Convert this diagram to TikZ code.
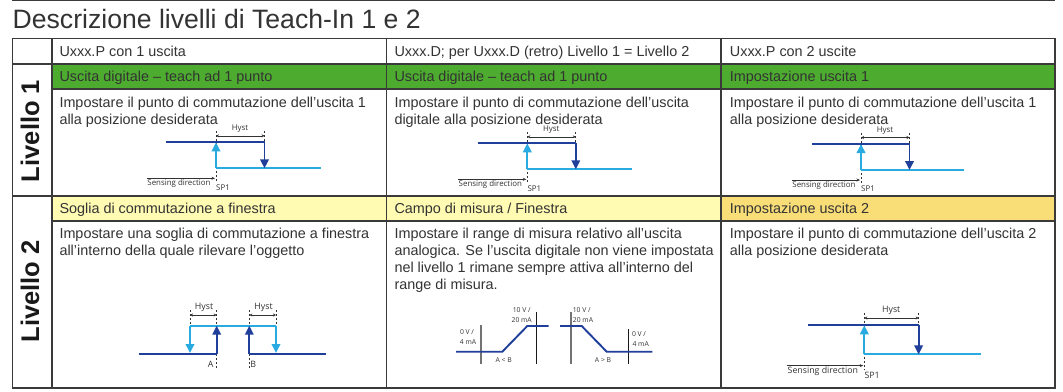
\documentclass[tikz,border=0pt]{standalone}
\usepackage{fontspec}
\setmainfont{Liberation Sans}
\newfontfamily\smallsans{Open Sans}
\usetikzlibrary{arrows.meta}
\definecolor{inkc}{HTML}{333333}
\definecolor{rulec}{HTML}{3A3A3A}
\definecolor{bandgreen}{HTML}{4DAB2F}
\definecolor{bandyellow}{HTML}{FFFBB3}
\definecolor{bandgold}{HTML}{F9DE78}
\definecolor{darkblue}{HTML}{1F3F9A}
\definecolor{lightblue}{HTML}{29ABE2}
\tikzset{
  x=1pt,y=-1pt,
  gridline/.style={draw=rulec,line width=1.4pt},
  celltext/.style={anchor=base west,inner sep=0pt,text=inkc,font=\fontsize{14.4}{17}\selectfont},
  bodytext/.style={anchor=north west,inner sep=0pt,text=inkc,align=left,font=\fontsize{14.4}{17}\selectfont},
  lvltext/.style={rotate=90,anchor=base,inner sep=0pt,text=black!90,font=\fontsize{25.5}{28}\selectfont\bfseries},
  darkline/.style={draw=darkblue,line width=1.9pt},
  lightline/.style={draw=lightblue,line width=1.9pt},
  darkarrow/.style={darkline,-{Triangle[width=8.5pt,length=9pt]}},
  lightarrow/.style={lightline,-{Triangle[width=8.5pt,length=9pt]}},
  dimline/.style={draw=inkc,line width=0.6pt,{Stealth[length=3pt,width=3pt]}-{Stealth[length=3pt,width=3pt]}},
  dirline/.style={draw=inkc,line width=0.6pt,-{Stealth[length=3.5pt,width=3pt]}},
  dotline/.style={draw=inkc,line width=0.7pt,dash pattern=on 2pt off 2pt},
  smalllabel/.style={inner sep=0pt,text=inkc,font=\smallsans\fontsize{#1}{#1}\selectfont},
  smalllabel/.default=7.9,
  grayaxis/.style={draw=black!55,line width=1.1pt},
  blackaxis/.style={draw=black!90,line width=1pt},
}
% hysteresis sketch: prefix, x of SP1, y of upper line, scale, label size, left end, right end
\newcommand{\hystsketch}[7]{%
\begin{scope}[shift={(#2,#3)},x=#4pt,y=-#4pt]
  \coordinate (#1l) at (#6,0);
  \coordinate (#1t) at (0,0);
  \coordinate (#1h) at (48.5,0);
  \coordinate (#1hb) at (48.5,26);
  \coordinate (#1b) at (0,26);
  \coordinate (#1r) at (#7,26);
  \coordinate (#1dt) at (0,-11);
  \coordinate (#1db) at (0,40);
  \coordinate (#1et) at (48.5,-11);
  \coordinate (#1d1) at (0,-6.5);
  \coordinate (#1d2) at (48.5,-6.5);
  \coordinate (#1s1) at (-69,36);
  \coordinate (#1s2) at (-1,36);
  \draw[dotline] (#1dt) -- (#1db);
  \draw[dotline] (#1et) -- (#1h);
  \draw[dimline] (#1d1) -- (#1d2);
  \draw[dirline] (#1s1) -- (#1s2);
  \draw[lightline] (#1r) -- (#1b);
  \draw[lightarrow] (#1b) -- (#1t);
  \draw[darkline] (#1l) -- (#1h);
  \draw[darkarrow] (#1h) -- (#1hb);
  \node[smalllabel=#5] (#1hy) at (24,-13.5) {Hyst};
  \node[smalllabel=#5] (#1se) at (-37,41) {Sensing direction};
  \node[smalllabel=#5,anchor=west] (#1sp) at (0,45) {SP1};
\end{scope}}
\begin{document}
\begin{tikzpicture}
\useasboundingbox (0,0) rectangle (1063,391);
\fill[white] (0,0) rectangle (1063,391);
% bands
\fill[bandgreen] (52,64) rectangle (1055,89);
\fill[bandyellow] (52,196) rectangle (721,221);
\fill[bandgold] (721,196) rectangle (1055,221);
% rules
\draw[draw=rulec,line width=1.5pt] (12,0.7) -- (1055,0.7);
\draw[gridline] (12.7,38.5) rectangle (1055,388);
\draw[gridline] (52,38.5) -- (52,388);
\draw[gridline] (386.7,38.5) -- (386.7,388);
\draw[gridline] (720.8,38.5) -- (720.8,388);
\draw[gridline] (12.7,64) -- (1055,64);
\draw[gridline] (52,89) -- (1055,89);
\draw[gridline] (12.7,196) -- (1055,196);
\draw[gridline] (52,221) -- (1055,221);
% title
\node[anchor=base west,inner sep=0pt,text=inkc,font=\fontsize{26.6}{28}\selectfont] (title) at (12.5,28) {Descrizione livelli di Teach-In 1 e 2};
% level labels
\node[lvltext] (lvlone) at (39,131) {Livello 1};
\node[lvltext] (lvltwo) at (39,291.5) {Livello 2};
% headers
\node[celltext] (h1) at (59.3,56) {Uxxx.P con 1 uscita};
\node[celltext] (h2) at (394.3,56) {Uxxx.D; per Uxxx.D (retro) Livello 1 = Livello 2};
\node[celltext] (h3) at (729.7,56) {Uxxx.P con 2 uscite};
\node[celltext] (a1) at (59.3,81.7) {Uscita digitale – teach ad 1 punto};
\node[celltext] (a2) at (394.3,81.7) {Uscita digitale – teach ad 1 punto};
\node[celltext] (a3) at (729.7,81.7) {Impostazione uscita 1};
\node[celltext] (b1) at (59.3,213.3) {Soglia di commutazione a finestra};
\node[celltext] (b2) at (394.3,213.3) {Campo di misura / Finestra};
\node[celltext] (b3) at (729.7,213.3) {Impostazione uscita 2};
% bodies
\node[bodytext] (c1) at (59.3,96.5) {Impostare il punto di commutazione dell’uscita 1\\alla posizione desiderata};
\node[bodytext] (c2) at (394.3,96.5) {Impostare il punto di commutazione dell’uscita\\digitale alla posizione desiderata};
\node[bodytext] (c3) at (729.7,96.5) {Impostare il punto di commutazione dell’uscita 1\\alla posizione desiderata};
\node[bodytext] (d1) at (59.3,227.8) {Impostare una soglia di commutazione a finestra\\all’interno della quale rilevare l’oggetto};
\node[bodytext] (d2) at (394.3,227.8) {Impostare il range di misura relativo all’uscita\\analogica. Se l’uscita digitale non viene impostata\\nel livello 1 rimane sempre attiva all’interno del\\range di misura.};
\node[bodytext] (d3) at (729.7,227.8) {Impostare il punto di commutazione dell’uscita 2\\alla posizione desiderata};
% hysteresis sketches
\hystsketch{pa}{216}{142.3}{1}{7.9}{-50.3}{105}
\hystsketch{pb}{527.3}{143.3}{1}{7.9}{-49.6}{104.7}
\hystsketch{pc}{861}{144}{1}{7.9}{-48.7}{103}
\hystsketch{pd}{864.3}{325.3}{1.12}{8.8}{-50}{104}
% window sketch
\coordinate (wl) at (138.7,354);
\coordinate (wa) at (216.7,354);
\coordinate (wat) at (216.7,325.7);
\coordinate (wb) at (249.3,354);
\coordinate (wbt) at (249.3,325.7);
\coordinate (wr) at (326,354);
\coordinate (wdl) at (190,325.7);
\coordinate (wdlb) at (190,353);
\coordinate (wdr) at (276,325.7);
\coordinate (wdrb) at (276,353);
\coordinate (wa0) at (216.7,310);
\coordinate (wa1) at (216.7,368);
\coordinate (wb0) at (249.3,310);
\coordinate (wb1) at (249.3,368);
\coordinate (wc0) at (190,310);
\coordinate (we0) at (276,310);
\coordinate (wh1) at (190,315);
\coordinate (wh2) at (216.7,315);
\coordinate (wh3) at (249.3,315);
\coordinate (wh4) at (276,315);
\draw[dotline] (wa0) -- (wa1);
\draw[dotline] (wb0) -- (wb1);
\draw[dotline] (wc0) -- (wdl);
\draw[dotline] (we0) -- (wdr);
\draw[dimline] (wh1) -- (wh2);
\draw[dimline] (wh3) -- (wh4);
\draw[lightline] (wdl) -- (wdr);
\draw[lightarrow] (wdl) -- (wdlb);
\draw[lightarrow] (wdr) -- (wdrb);
\draw[darkline] (wl) -- (wa);
\draw[darkline] (wb) -- (wr);
\draw[darkarrow] (wa) -- (wat);
\draw[darkarrow] (wb) -- (wbt);
\node[smalllabel=8.8] (wh) at (204,307) {Hyst};
\node[smalllabel=8.8] (whb) at (263.5,307) {Hyst};
\node[smalllabel=8.8] (wA) at (210.7,364.5) {A};
\node[smalllabel=8.8] (wB) at (253.3,364.5) {B};
% ramp sketches
\coordinate (r1) at (456,351.7);
\coordinate (r2) at (502.3,351.7);
\coordinate (r3) at (527.3,326);
\coordinate (r4) at (548.7,326);
\coordinate (r5) at (560,326);
\coordinate (r6) at (581.7,326);
\coordinate (r7) at (606.7,351.7);
\coordinate (r8) at (652.3,351.7);
\coordinate (g1t) at (481,325);
\coordinate (g1b) at (481,363.5);
\coordinate (k1t) at (536.7,311.5);
\coordinate (k1b) at (536.7,363.5);
\coordinate (g2t) at (571,311.5);
\coordinate (g2b) at (571,363.5);
\coordinate (k2t) at (628.3,329);
\coordinate (k2b) at (628.3,363.5);
\draw[grayaxis] (g1t) -- (g1b);
\draw[blackaxis] (k1t) -- (k1b);
\draw[grayaxis] (g2t) -- (g2b);
\draw[blackaxis] (k2t) -- (k2b);
\draw[darkline] (r1) -- (r2) -- (r3) -- (r4);
\draw[darkline] (r5) -- (r6) -- (r7) -- (r8);
\node[smalllabel=6.8] (ra1) at (467,332) {0 V /};
\node[smalllabel=6.8] (ra2) at (468,342.5) {4 mA};
\node[smalllabel=6.8] (rb1) at (521.7,310) {10 V /};
\node[smalllabel=6.8] (rb2) at (521.7,320) {20 mA};
\node[smalllabel=6.8] (rc1) at (581.7,310) {10 V /};
\node[smalllabel=6.8] (rc2) at (583,320) {20 mA};
\node[smalllabel=6.8] (rd1) at (639,334) {0 V /};
\node[smalllabel=6.8] (rd2) at (640.7,344.5) {4 mA};
\node[smalllabel=6.8] (re1) at (503.7,360) {A < B};
\node[smalllabel=6.8] (re2) at (603,359.6) {A > B};
\end{tikzpicture}
\end{document}
